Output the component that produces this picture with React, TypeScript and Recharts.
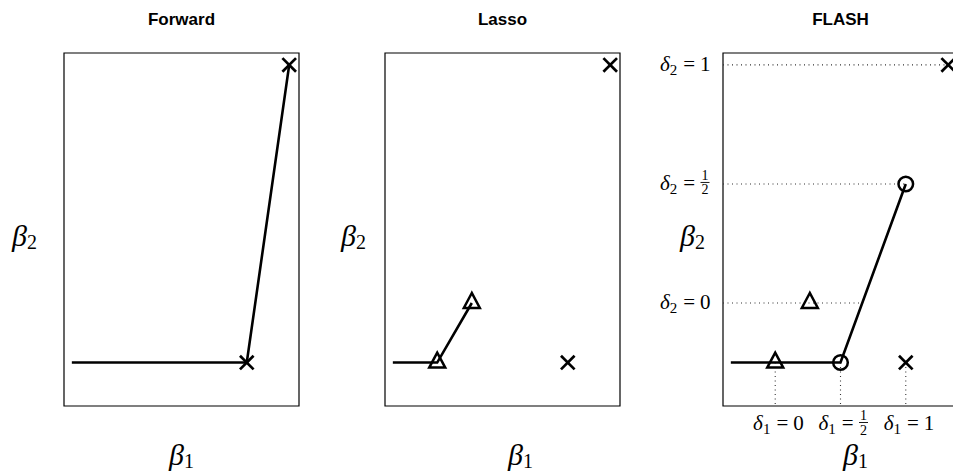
import React from "react"
import {
  ScatterChart,
  Scatter,
  XAxis,
  YAxis,
  ReferenceArea,
  ReferenceLine,
} from "recharts"

// coordinates are (beta1, beta2)
const forwardPath = [
  { x: 0.32, y: 1 },
  { x: 3, y: 1 },
  { x: 3.65, y: 6 },
]
const forwardCrosses = [
  { x: 3, y: 1 },
  { x: 3.65, y: 6 },
]

const lassoPath = [
  { x: 0.32, y: 1 },
  { x: 1, y: 1 },
  { x: 1.53, y: 2 },
]
const lassoTriangles = [
  { x: 1, y: 1 },
  { x: 1.53, y: 2 },
]
const lassoCrosses = [
  { x: 3, y: 1 },
  { x: 3.65, y: 6 },
]

const flashPath = [
  { x: 0.32, y: 1 },
  { x: 2, y: 1 },
  { x: 3, y: 4 },
]
const flashTriangles = [
  { x: 1, y: 1 },
  { x: 1.53, y: 2 },
]
const flashCircles = [
  { x: 2, y: 1 },
  { x: 3, y: 4 },
]
const flashCrosses = [
  { x: 3, y: 1 },
  { x: 3.65, y: 6 },
]

const flashXTicks = [1, 2, 3]
const flashXTickLabels = ["0", "1/2", "1"]
const flashYTicks = [2, 4, 6]
const flashYTickLabels = ["0", "1/2", "1"]
// where the dotted horizontal guides stop (beta1)
const flashYGuideEnds = [2.33, 3, 3.65]
// where the dotted vertical guides start (beta2)
const flashXGuideStart = 1

const xDomain = [0.2, 3.8]
const yDomain = [0.27, 6.2]

const MATH_FONT = '"Liberation Serif", "DejaVu Serif", serif'
const TITLE_FONT = '"Liberation Sans", Arial, sans-serif'

const Cross = (props: any) => {
  const { cx, cy } = props
  const s = 6.8
  return (
    <g stroke="#000" strokeWidth={2.7}>
      <line x1={cx - s} y1={cy - s} x2={cx + s} y2={cy + s} />
      <line x1={cx - s} y1={cy + s} x2={cx + s} y2={cy - s} />
    </g>
  )
}

const Triangle = (props: any) => {
  const { cx, cy } = props
  return (
    <polygon
      points={`${cx},${cy - 10} ${cx - 8},${cy + 5} ${cx + 8},${cy + 5}`}
      fill="none"
      stroke="#000"
      strokeWidth={2.5}
    />
  )
}

const Ring = (props: any) => {
  const { cx, cy } = props
  return <circle cx={cx} cy={cy} r={7.3} fill="none" stroke="#000" strokeWidth={2.5} />
}

const NoDot = () => <g />

function BetaLabel({ x, y, sub }: { x: number; y: number; sub: string }) {
  return (
    <text x={x} y={y} fontFamily={MATH_FONT} fontSize={30} fill="#000">
      <tspan fontStyle="italic">β</tspan>
      <tspan fontSize={20} dy={3}>
        {sub}
      </tspan>
    </text>
  )
}

// "δ_sub = value", x is the right end of the "=" sign, y the baseline
function DeltaLabel({ x, y, sub, value }: { x: number; y: number; sub: string; value: string }) {
  const [num, den] = value.split("/")
  return (
    <g fontFamily={MATH_FONT} fill="#000">
      <text x={x} y={y} fontSize={21} textAnchor="end">
        <tspan fontStyle="italic">δ</tspan>
        <tspan fontSize={15} dy={4}>
          {sub}
        </tspan>
        <tspan dx={6} dy={-4}>
          =
        </tspan>
      </text>
      {den ? (
        <g>
          <text x={x + 10} y={y - 10} fontSize={14} textAnchor="middle">
            {num}
          </text>
          <line x1={x + 5.5} x2={x + 14.5} y1={y - 7.5} y2={y - 7.5} stroke="#000" strokeWidth={0.9} />
          <text x={x + 10} y={y + 4.5} fontSize={14} textAnchor="middle">
            {den}
          </text>
        </g>
      ) : (
        <text x={x + 5} y={y} fontSize={21}>
          {value}
        </text>
      )}
    </g>
  )
}

const FlashXTick = (props: any) => {
  const { x, y, payload } = props
  const label = flashXTickLabels[flashXTicks.indexOf(payload.value)]
  return <DeltaLabel x={x + 13} y={y + 16} sub="1" value={label} />
}

const FlashYTick = (props: any) => {
  const { x, y, payload } = props
  const label = flashYTickLabels[flashYTicks.indexOf(payload.value)]
  return <DeltaLabel x={x - 20} y={y + 6} sub="2" value={label} />
}

interface PanelProps {
  title: string
  left: number
  width: number
  marginLeft: number
  marginRight: number
  yAxisWidth: number
  beta1X: number
  beta2X: number
  flash?: boolean
  children: React.ReactNode
}

const HEIGHT = 474
const TOP = 53
const X_AXIS_H = 60
const BOTTOM = 8

function Panel(p: PanelProps) {
  const plotLeft = p.marginLeft + p.yAxisWidth
  const plotWidth = p.width - plotLeft - p.marginRight
  return (
    <div style={{ position: "absolute", left: p.left, top: 0, width: p.width, height: HEIGHT }}>
      <div
        style={{
          position: "absolute",
          left: plotLeft,
          width: plotWidth,
          top: 11,
          textAlign: "center",
          fontFamily: TITLE_FONT,
          fontWeight: 700,
          fontSize: 17,
          lineHeight: "17px",
          color: "#000",
        }}
      >
        {p.title}
      </div>
      <ScatterChart
        width={p.width}
        height={HEIGHT}
        margin={{ top: TOP, right: p.marginRight, bottom: BOTTOM, left: p.marginLeft }}
      >
        <XAxis
          type="number"
          dataKey="x"
          domain={xDomain}
          allowDataOverflow
          height={X_AXIS_H}
          axisLine={false}
          tickLine={false}
          ticks={p.flash ? flashXTicks : []}
          tick={p.flash ? <FlashXTick /> : false}
          interval={0}
          label={{ content: () => <BetaLabel x={p.beta1X} y={465} sub="1" /> }}
        />
        <YAxis
          type="number"
          dataKey="y"
          domain={yDomain}
          allowDataOverflow
          width={p.yAxisWidth}
          axisLine={false}
          tickLine={false}
          ticks={p.flash ? flashYTicks : []}
          tick={p.flash ? <FlashYTick /> : false}
          interval={0}
          label={{ content: () => <BetaLabel x={p.beta2X} y={246} sub="2" /> }}
        />
        <ReferenceArea
          x1={xDomain[0]}
          x2={xDomain[1]}
          y1={yDomain[0]}
          y2={yDomain[1]}
          fill="none"
          stroke="#000"
          strokeWidth={1.2}
          ifOverflow="visible"
        />
        {p.children}
      </ScatterChart>
    </div>
  )
}

const lineStyle = { stroke: "#000", strokeWidth: 2.6 }

export default function App() {
  return (
    <div
      style={{
        position: "absolute",
        left: 0,
        top: 0,
        width: 953,
        height: HEIGHT,
        overflow: "hidden",
        background: "#fff",
      }}
    >
      <Panel
        title="Forward"
        left={0}
        width={320}
        marginLeft={4}
        marginRight={21}
        yAxisWidth={60}
        beta1X={169}
        beta2X={12}
      >
        <Scatter data={forwardPath} line={lineStyle} shape={NoDot} isAnimationActive={false} />
        <Scatter data={forwardCrosses} shape={Cross} isAnimationActive={false} />
      </Panel>

      <Panel
        title="Lasso"
        left={320}
        width={320}
        marginLeft={5}
        marginRight={20}
        yAxisWidth={60}
        beta1X={188}
        beta2X={21}
      >
        <Scatter data={lassoPath} line={lineStyle} shape={NoDot} isAnimationActive={false} />
        <Scatter data={lassoTriangles} shape={Triangle} isAnimationActive={false} />
        <Scatter data={lassoCrosses} shape={Cross} isAnimationActive={false} />
      </Panel>

      <Panel
        title="FLASH"
        left={640}
        width={330}
        marginLeft={3}
        marginRight={12}
        yAxisWidth={80}
        beta1X={203}
        beta2X={40}
        flash
      >
        {flashYTicks.map((t, i) => (
          <ReferenceLine
            key={`h-${t}`}
            segment={[
              { x: xDomain[0], y: t },
              { x: flashYGuideEnds[i], y: t },
            ]}
            stroke="#333"
            strokeWidth={1.1}
            strokeDasharray="1 3.5"
            ifOverflow="visible"
          />
        ))}
        {flashXTicks.map((t) => (
          <ReferenceLine
            key={`v-${t}`}
            segment={[
              { x: t, y: flashXGuideStart },
              { x: t, y: yDomain[0] },
            ]}
            stroke="#333"
            strokeWidth={1.1}
            strokeDasharray="1 3.5"
            ifOverflow="visible"
          />
        ))}
        <Scatter data={flashPath} line={lineStyle} shape={NoDot} isAnimationActive={false} />
        <Scatter data={flashTriangles} shape={Triangle} isAnimationActive={false} />
        <Scatter data={flashCircles} shape={Ring} isAnimationActive={false} />
        <Scatter data={flashCrosses} shape={Cross} isAnimationActive={false} />
      </Panel>
    </div>
  )
}
